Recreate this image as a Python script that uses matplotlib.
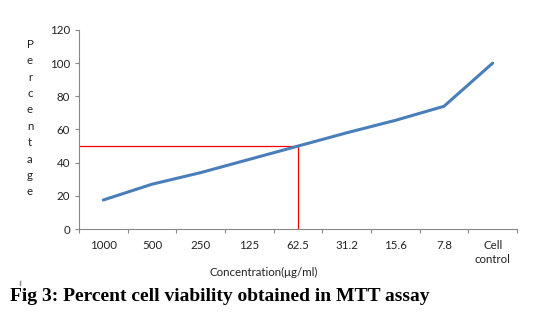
import matplotlib.pyplot as plt
import matplotlib
from matplotlib.lines import Line2D
import numpy as np

matplotlib.rcParams['font.family'] = 'Lato'

concentrations = ['1000', '500', '250', '125', '62.5', '31.2', '15.6', '7.8', 'Cell\ncontrol']
viability = [17.5, 27, 34, 42, 50, 58, 65.5, 74, 100]
ic50_index = 4
ic50_value = 50
y_ticks = [0, 20, 40, 60, 80, 100, 120]


def main():
    fig = plt.figure(figsize=(5.45, 3.21), dpi=100)
    fig.patch.set_facecolor('white')
    ax = fig.add_axes([0.145, 0.2866, 0.8036, 0.62])

    x = np.arange(len(concentrations))
    ax.plot(x, viability, color='#4A7EBB', linewidth=2.2, solid_capstyle='round', zorder=3)

    # 50% marker lines
    ax.plot([-0.5, x[ic50_index]], [ic50_value, ic50_value], color='#FF0000', linewidth=0.9, zorder=2)
    ax.plot([x[ic50_index], x[ic50_index]], [0, ic50_value], color='#FF0000', linewidth=0.9, zorder=2)

    ax.set_xlim(-0.5, len(concentrations) - 0.5)
    ax.set_ylim(0, 120)
    ax.set_yticks(y_ticks)
    ax.set_xticks(x)
    ax.set_xticklabels(concentrations, fontsize=8.3, color='#222222', linespacing=1.3)
    ax.set_xticks(np.arange(-0.5, len(concentrations)), minor=True)
    ax.tick_params(axis='x', which='major', length=0, pad=8)
    ax.tick_params(axis='x', which='minor', length=3, color='#888888', width=0.8)
    ax.tick_params(axis='y', labelsize=8.3, colors='#222222', length=3, width=0.8)
    ax.tick_params(axis='y', color='#888888')

    for side in ['top', 'right']:
        ax.spines[side].set_visible(False)
    for side in ['left', 'bottom']:
        ax.spines[side].set_color('#888888')
        ax.spines[side].set_linewidth(0.8)

    fig.text(0.055, 0.632, '\n'.join('Percentage'), ha='center', va='center',
             fontsize=8.3, color='#222222', linespacing=1.6)
    fig.text(0.483, 0.152, 'Concentration(\u03bcg/ml)', ha='center', va='center',
             fontsize=8.3, color='#222222')
    fig.text(0.018, 0.075, 'Fig 3: Percent cell viability obtained in MTT assay',
             ha='left', va='center', fontsize=14, fontweight='bold',
             family='Liberation Serif', color='#000000')
    fig.add_artist(Line2D([0.037, 0.037], [0.112, 0.125], color='#888888', linewidth=1))

    fig.savefig('out.png', dpi=100, facecolor='white')


if __name__ == '__main__':
    main()
